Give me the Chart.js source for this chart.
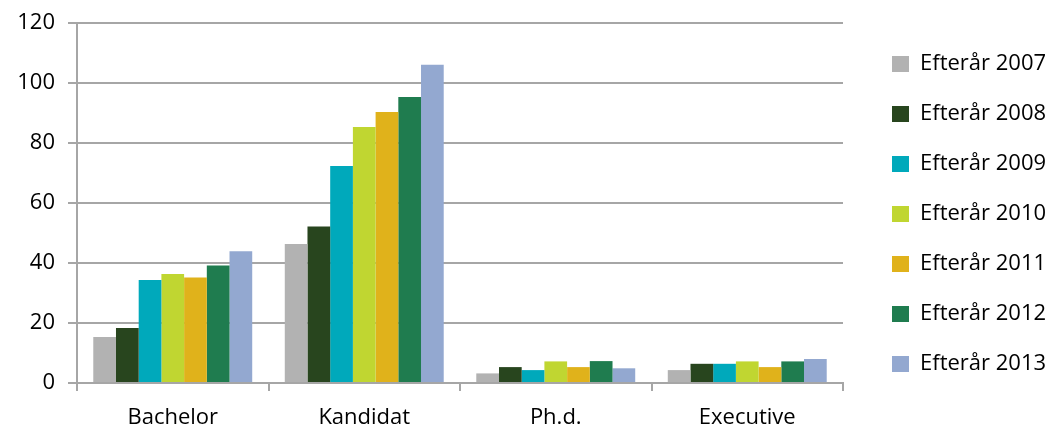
<!DOCTYPE html>
<html>
<head>
<meta charset="utf-8">
<script src="https://cdn.jsdelivr.net/npm/chart.js@4"></script>
<style>
 html, body { margin: 0; padding: 0; background: #fff; }
 #wrap { width: 1052px; height: 428px; }
</style>
</head>
<body>
<div id="wrap"><canvas id="chart" width="1052" height="428"></canvas></div>
<script>
const categories = ["Bachelor", "Kandidat", "Ph.d.", "Executive"]

const seriesNames = ["Efterår 2007", "Efterår 2008", "Efterår 2009", "Efterår 2010", "Efterår 2011", "Efterår 2012", "Efterår 2013"]
const seriesColors = ["#b2b2b2", "#28451e", "#00a9bb", "#c0d631", "#e0b21b", "#1f7c4f", "#93a8d0"]

const fall2007 = [15.3, 46.3, 3.2, 4.3]
const fall2008 = [18.3, 52.2, 5.3, 6.4]
const fall2009 = [34.3, 72.3, 4.3, 6.4]
const fall2010 = [36.3, 85.3, 7.2, 7.2]
const fall2011 = [35.2, 90.3, 5.3, 5.3]
const fall2012 = [39.2, 95.3, 7.3, 7.2]
const fall2013 = [43.9, 106.1, 4.9, 8.0]
const seriesValues = [fall2007, fall2008, fall2009, fall2010, fall2011, fall2012, fall2013]

const yTicks = [0, 20, 40, 60, 80, 100, 120]

const axisGray = "#a6a6a6"
const font = { family: "'Open Sans'", size: 22 }

// legend measures its own width oddly, so pin it
const legendWidth = {
 id: "legendWidth",
 beforeInit(chart) {
  const legend = chart.legend
  const fit = legend.fit.bind(legend)
  legend.fit = function () {
   fit()
   this.width = 188
  }
 }
}

const hiddenAxis = size => ({
 display: true,
 grid: { display: false },
 border: { display: false },
 ticks: { display: false },
 afterFit: s => {
  if (s.isHorizontal()) s.height = size
  else s.width = size
 }
})

const chart = new Chart(document.getElementById("chart"), {
 type: "bar",
 data: {
  labels: categories,
  datasets: seriesNames.map((name, i) => ({
   label: name,
   data: seriesValues[i],
   backgroundColor: seriesColors[i],
   categoryPercentage: 0.83,
   barPercentage: 1
  }))
 },
 plugins: [legendWidth],
 options: {
  responsive: false,
  animation: false,
  layout: { padding: 0 },
  plugins: {
   tooltip: { enabled: false },
   legend: {
    position: "right",
    labels: {
     color: "#000",
     font: font,
     boxWidth: 17,
     boxHeight: 16,
     padding: 28
    }
   }
  },
  scales: {
   x: {
    afterFit: s => { s.height = 45 },
    grid: {
     offset: true,
     drawOnChartArea: false,
     color: axisGray,
     lineWidth: 2,
     tickLength: 8
    },
    border: { color: axisGray, width: 2 },
    ticks: { color: "#000", font: font, padding: 14 }
   },
   y: {
    min: 0,
    max: 120,
    afterFit: s => {
     s.width = 77
     s.paddingTop = 0
     s.paddingBottom = 0
    },
    afterBuildTicks: s => { s.ticks = yTicks.map(v => ({ value: v })) },
    grid: { color: axisGray, lineWidth: 2, tickLength: 9 },
    border: { color: axisGray, width: 2 },
    ticks: { color: "#000", font: font, padding: 13 }
   },
   gapTop: Object.assign({ position: "top", axis: "x" }, hiddenAxis(23)),
   gapRight: Object.assign({ position: "right", axis: "y" }, hiddenAxis(21))
  }
 }
})
</script>
</body>
</html>
